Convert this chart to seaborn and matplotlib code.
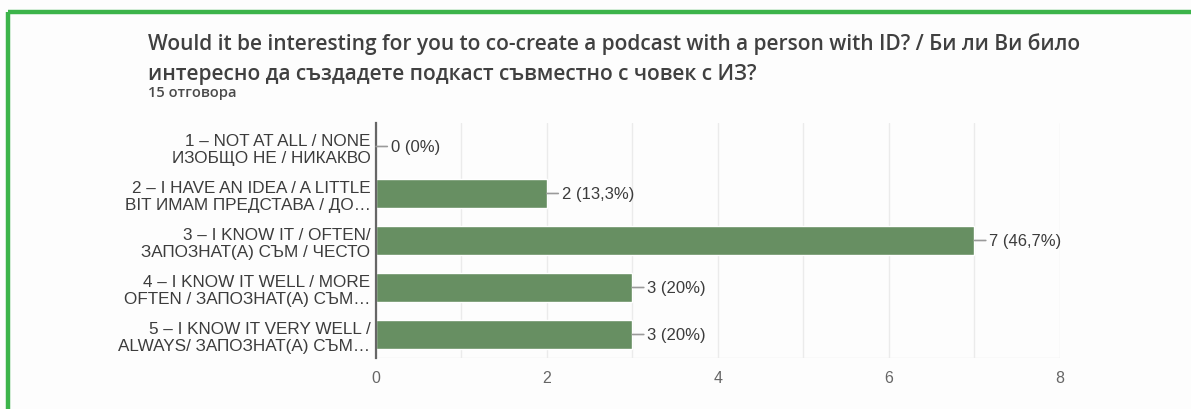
import matplotlib
matplotlib.use("Agg")
import matplotlib.pyplot as plt
import seaborn as sns
import pandas as pd

# Survey answers (Google Forms style summary)
categories = [
    "1 – NOT AT ALL / NONE\nИЗОБЩО НЕ / НИКАКВО",
    "2 – I HAVE AN IDEA / A LITTLE\nBIT ИМАМ ПРЕДСТАВА / ДО…",
    "3 – I KNOW IT / OFTEN/\nЗАПОЗНАТ(А) СЪМ / ЧЕСТО",
    "4 – I KNOW IT WELL / MORE\nOFTEN / ЗАПОЗНАТ(А) СЪМ…",
    "5 – I KNOW IT VERY WELL /\nALWAYS/ ЗАПОЗНАТ(А) СЪМ…",
]
counts = [0, 2, 7, 3, 3]
total_responses = 15
x_ticks = [0, 2, 4, 6, 8]

title_line1 = "Would it be interesting for you to co-create a podcast with a person with ID? / Би ли Ви било"
title_line2 = "интересно да създадете подкаст съвместно с човек с ИЗ?"
subtitle = "15 отговора"

bar_color = "#678f62"
text_color = "#3c3c3c"
green_frame = "#3cb44a"
title_font = ["Open Sans", "DejaVu Sans"]


def pct_label(n, total):
    p = round(100 * n / total, 1)
    s = f"{p:.1f}".rstrip("0").rstrip(".").replace(".", ",")
    return f"{n} ({s}%)"


df = pd.DataFrame({"answer": categories, "count": counts})

sns.set_theme(style="white")
plt.rcParams["font.family"] = ["Liberation Sans", "DejaVu Sans"]

fig = plt.figure(figsize=(11.91, 4.10), dpi=100)
fig.patch.set_facecolor("#fdfdfd")

# green frame along top and left
fig.add_artist(plt.Line2D([0.0067, 1.0], [0.968, 0.968], transform=fig.transFigure,
                          color=green_frame, lw=3.2, solid_capstyle="butt"))
fig.add_artist(plt.Line2D([0.0067, 0.0067], [0.0, 0.968], transform=fig.transFigure,
                          color=green_frame, lw=3.2, solid_capstyle="butt"))

ax = fig.add_axes([0.3157, 0.1244, 0.5743, 0.5732])
ax.set_facecolor("none")

sns.barplot(data=df, y="answer", x="count", orient="h", color=bar_color,
            saturation=1, width=0.62, ax=ax)

ax.set_xlim(0, 8)
ax.set_xticks(x_ticks)
ax.set_xticks(range(0, 9), minor=True)
ax.grid(axis="x", which="both", color="#ebebeb", lw=1)
ax.set_axisbelow(True)
ax.set_xlabel("")
ax.set_ylabel("")

for side in ["top", "right", "bottom"]:
    ax.spines[side].set_visible(False)
ax.spines["left"].set_color("#666666")
ax.spines["left"].set_linewidth(1.6)
ax.axhline(ax.get_ylim()[0], color="#ebebeb", lw=1, zorder=0)

ax.tick_params(axis="x", which="both", length=0, pad=9, labelsize=11.5, labelcolor="#666666")
ax.tick_params(axis="y", length=0, pad=4)
for lab in ax.get_yticklabels():
    lab.set_fontsize(12.3)
    lab.set_color(text_color)
    lab.set_horizontalalignment("right")
    lab.set_multialignment("right")
    lab.set_linespacing(1.2)

for i, n in enumerate(counts):
    ax.annotate(pct_label(n, total_responses), xy=(n, i), xytext=(10.5, 0),
                textcoords="offset points", ha="left", va="center",
                fontsize=12, color=text_color,
                arrowprops=dict(arrowstyle="-", color="#9a9a9a", lw=1.2,
                                shrinkA=0, shrinkB=0))

fig.text(0.1243, 0.893, title_line1, fontsize=15, color="#404040",
         family=title_font, va="center", fontweight="semibold")
fig.text(0.1243, 0.818, title_line2, fontsize=15, color="#404040",
         family=title_font, va="center", fontweight="semibold")
fig.text(0.1243, 0.773, subtitle, fontsize=10.6, color="#4a4a4a",
         family=title_font, va="center", fontweight="semibold")

fig.savefig("out.png", dpi=100, facecolor=fig.get_facecolor())
